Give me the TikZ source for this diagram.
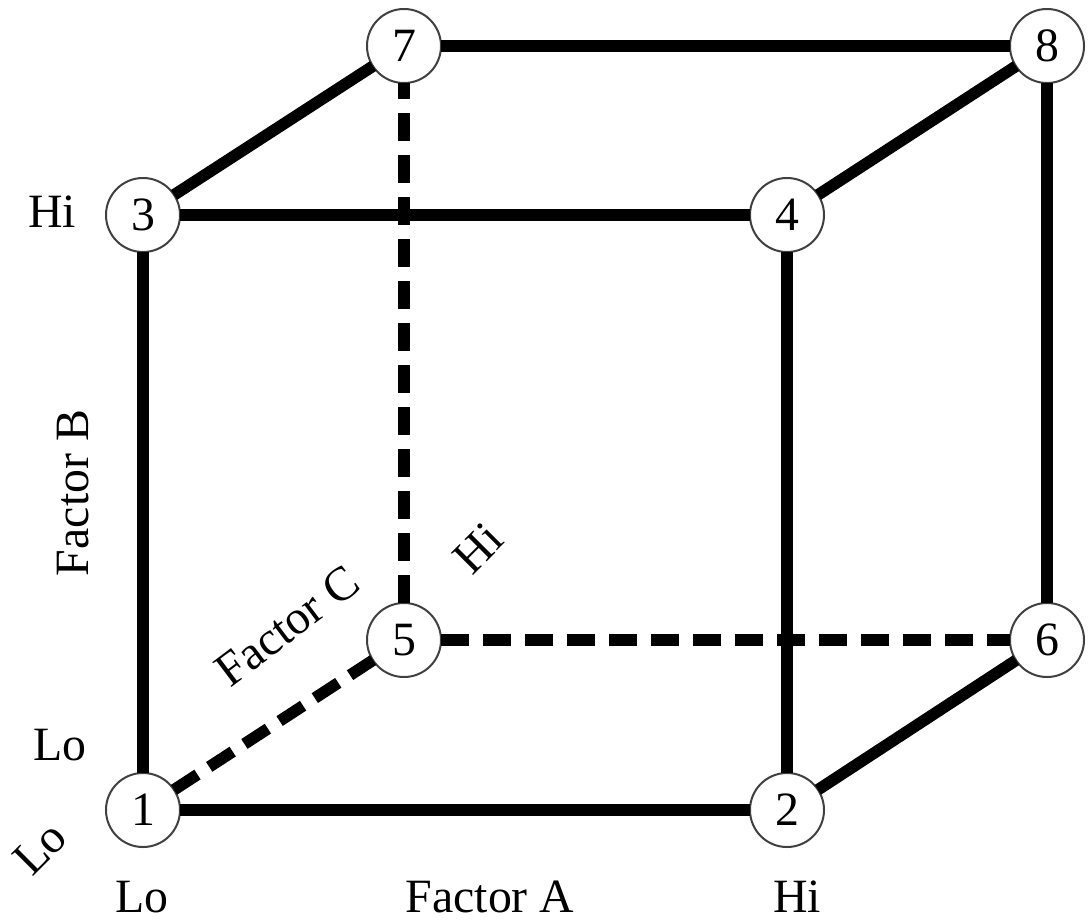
\documentclass[tikz,border=0pt]{standalone}
\usepackage{fontspec}
\setmainfont{Liberation Serif}
\usepackage{tikz}
\usetikzlibrary{positioning, calc}

\tikzset{
  corner/.style={draw=black!75, line width=0.05cm, circle, fill=white, minimum size=1.85cm, inner sep=0pt, outer sep=0pt, font=\fontsize{34}{40}\selectfont},
  edge/.style={line width=0.29cm},
  hidden/.style={line width=0.29cm, dash pattern=on 0.7cm off 0.35cm},
  lbl/.style={font=\fontsize{34}{40}\selectfont, inner sep=0pt}
}

\begin{document}
\begin{tikzpicture}[x=0.025cm, y=-0.025cm]
  \useasboundingbox (0,0) rectangle (1092,922);

  % corners of the cube (front face, then back face)
  \node[corner] (c1) at (143,810) {1};
  \node[corner] (c2) at (787,810) {2};
  \node[corner] (c3) at (143,215) {3};
  \node[corner] (c4) at (787,215) {4};
  \node[corner] (c5) at (404,640) {5};
  \node[corner] (c6) at (1047,640) {6};
  \node[corner] (c7) at (404,46) {7};
  \node[corner] (c8) at (1047,46) {8};

  % visible edges
  \draw[edge] (c1) -- (c2);
  \draw[edge] (c1) -- (c3);
  \draw[edge] (c2) -- (c4);
  \draw[edge] (c3) -- (c4);
  \draw[edge] (c3) -- (c7);
  \draw[edge] (c4) -- (c8);
  \draw[edge] (c2) -- (c6);
  \draw[edge] (c7) -- (c8);
  \draw[edge] (c8) -- (c6);

  % hidden edges
  \draw[hidden] (c1) -- (c5);
  \draw[hidden] (c5) -- (c6);
  \draw[hidden] (c5) -- (c7);

  % factor levels and names
  \node[lbl] (hiB) at (52,212) {Hi};
  \node[lbl] (loB) at (60,745) {Lo};
  \node[lbl, rotate=45] (loC) at (40,848) {Lo};
  \node[lbl] (loA) at (142,897) {Lo};
  \node[lbl] (facA) at (490,897) {Factor A};
  \node[lbl] (hiA) at (797,897) {Hi};
  \node[lbl, rotate=90] (facB) at (73,493) {Factor B};
  \node[lbl, rotate=37] (facC) at (287,626) {Factor C};
  \node[lbl, rotate=45] (hiC) at (478,548) {Hi};
\end{tikzpicture}
\end{document}
